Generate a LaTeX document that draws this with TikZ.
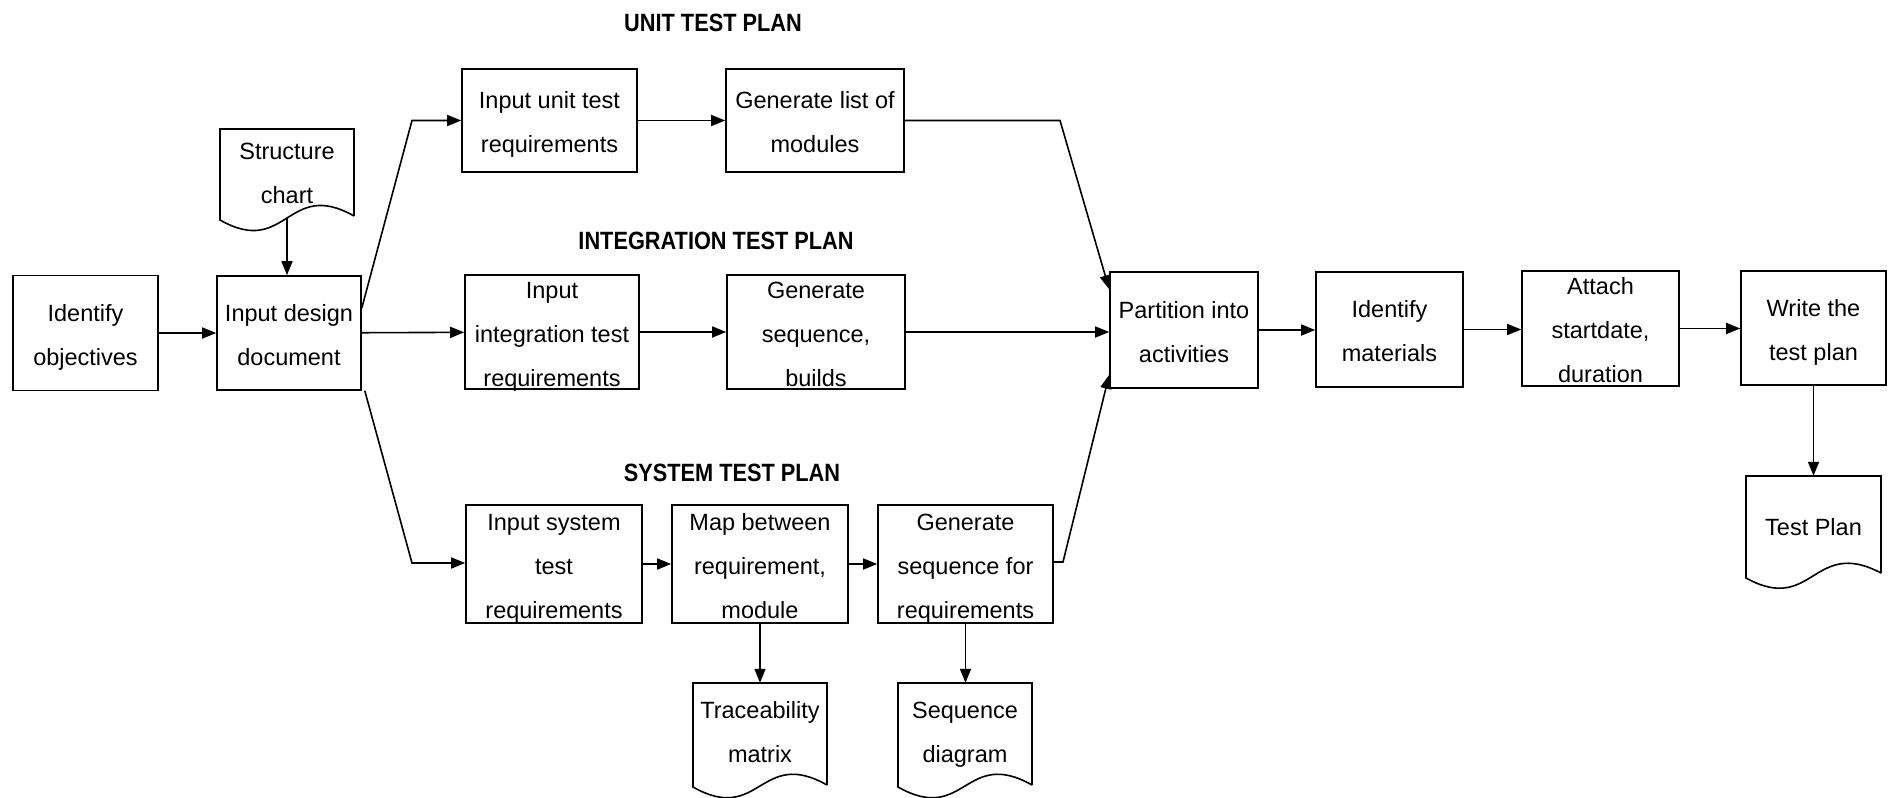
\documentclass[tikz,border=0pt]{standalone}
\usepackage{fontspec}
\setmainfont{Liberation Sans}
\usepackage{graphicx}
\usetikzlibrary{arrows.meta}
\newcommand\bodyfs{\fontsize{23.5pt}{44pt}\selectfont}
\newcommand\bt[1]{\raisebox{-7.9pt}[0pt][0pt]{\begin{tabular}{@{}c@{}}#1\end{tabular}}}
\newcommand\ttl[1]{\scalebox{0.87}[1]{\fontsize{25pt}{30pt}\selectfont\bfseries #1}}
\tikzset{
  box/.style={draw, line width=1.6pt, inner sep=0pt, align=center, font=\bodyfs},
  doctext/.style={inner sep=0pt, align=center, font=\bodyfs},
  docline/.style={draw, line width=1.6pt},
  arr/.style={line width=1.6pt, -{Triangle[length=14pt,width=11pt]}},
  title/.style={inner sep=0pt}
}
\begin{document}
\begin{tikzpicture}[x=1pt,y=-1pt]
\useasboundingbox (0,0) rectangle (1888,798);

% titles
\node[title] (t1) at (713,23) {\ttl{UNIT TEST PLAN}};
\node[title] (t2) at (716,241) {\ttl{INTEGRATION TEST PLAN}};
\node[title] (t3) at (732,473) {\ttl{SYSTEM TEST PLAN}};

% boxes
\node[box, minimum width=145pt, minimum height=115pt] (idobj) at (85.5,333) {\bt{Identify\\objectives}};
\node[box, minimum width=144pt, minimum height=114pt] (design) at (289,333) {\bt{Input design\\document}};
\node[box, minimum width=175pt, minimum height=103pt] (unit) at (549.5,120.5) {\bt{Input unit test\\requirements}};
\node[box, minimum width=178pt, minimum height=103pt] (genlist) at (815,120.5) {\bt{Generate list of\\modules}};
\node[box, minimum width=174pt, minimum height=114pt] (integ) at (552,332) {\bt{Input\\integration test\\requirements}};
\node[box, minimum width=178pt, minimum height=114pt] (genseq) at (816,332) {\bt{Generate\\sequence,\\builds}};
\node[box, minimum width=148pt, minimum height=116pt] (part) at (1184,330) {\bt{Partition into\\activities}};
\node[box, minimum width=147pt, minimum height=115pt] (idmat) at (1389.5,329.5) {\bt{Identify\\materials}};
\node[box, minimum width=157pt, minimum height=115pt] (attach) at (1600.5,328.5) {\bt{Attach\\startdate,\\duration}};
\node[box, minimum width=145pt, minimum height=114pt] (write) at (1813.5,328) {\bt{Write the\\test plan}};
\node[box, minimum width=176pt, minimum height=118pt] (systest) at (554,564) {\bt{Input system\\test\\requirements}};
\node[box, minimum width=176pt, minimum height=118pt] (map) at (760,564) {\bt{Map between\\requirement,\\module}};
\node[box, minimum width=175pt, minimum height=118pt] (genreq) at (965.5,564) {\bt{Generate\\sequence for\\requirements}};

% documents
\draw[docline] (354,216) -- (354,129) -- (220,129) -- (220,220) .. controls (287,258) and (287,178) .. (354,216);
\node[doctext, minimum width=134pt, minimum height=84pt] (sc) at (287,171) {\bt{Structure\\chart}};
\coordinate (scb) at (287,218);

\draw[docline] (827,785) -- (827,683) -- (693,683) -- (693,787) .. controls (760,825) and (760,747) .. (827,785);
\node[doctext, minimum width=134pt, minimum height=94pt] (tm) at (760,730) {\bt{Traceability\\matrix}};

\draw[docline] (1032,785) -- (1032,683) -- (898,683) -- (898,787) .. controls (965,825) and (965,747) .. (1032,785);
\node[doctext, minimum width=134pt, minimum height=94pt] (sd) at (965,730) {\bt{Sequence\\diagram}};

\draw[docline] (1881,573) -- (1881,476) -- (1746,476) -- (1746,578) .. controls (1813,615) and (1813,537) .. (1881,573);
\node[doctext, minimum width=135pt, minimum height=98pt] (tp) at (1813.5,525) {\bt{Test Plan}};

% bend points
\coordinate (k1) at (412,120.5);
\coordinate (k2) at (412,563);
\coordinate (k3) at (1060,120.5);
\coordinate (k4) at (1063,562);

% connectors
\draw[arr] (idobj) -- (design);
\draw[arr] (scb) -- (scb |- design.north);
\draw[arr] ([yshift=25pt]design.east) -- (k1) -- (unit.west);
\draw[arr] (design) -- (integ);
\draw[arr] ([xshift=3pt]design.south east) -- (k2) -- (systest.west |- k2);
\draw[arr] (unit) -- (genlist);
\draw[arr] (integ) -- (genseq);
\draw[arr] (systest) -- (map);
\draw[arr] (map) -- (genreq);
\draw[arr] (map.south) -- (map.south |- tm.north);
\draw[arr] (genreq.south) -- (genreq.south |- sd.north);
\draw[arr] (genlist.east) -- (k3) -- ([yshift=-18pt]part.north west);
\draw[arr] (genseq.east) -- (genseq.east -| part.west);
\draw[arr] (genreq.east |- k4) -- (k4) -- ([yshift=14pt]part.south west);
\draw[arr] (part.east) -- (part.east -| idmat.west);
\draw[arr] (idmat.east) -- (idmat.east -| attach.west);
\draw[arr] (attach.east) -- (attach.east -| write.west);
\draw[arr] (write.south) -- (write.south |- tp.north);
\end{tikzpicture}
\end{document}
